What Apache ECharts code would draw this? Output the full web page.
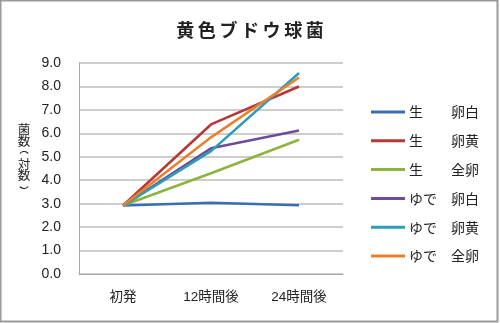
<!DOCTYPE html>
<html>
<head>
<meta charset="utf-8">
<script src="https://cdn.jsdelivr.net/npm/echarts@6/dist/echarts.min.js"></script>
<style>
  html, body { margin: 0; padding: 0; background: #fff; }
  #chart { width: 500px; height: 323px; }
</style>
</head>
<body>
<div id="chart"></div>
<script>
// Staphylococcus aureus counts (log scale) in raw / boiled egg parts
const categories = ['初発', '12時間後', '24時間後'];
const seriesNames = ['生　　卵白', '生　　卵黄', '生　　全卵', 'ゆで　卵白', 'ゆで　卵黄', 'ゆで　全卵'];
const rawWhite = [2.92, 3.04, 2.93];
const rawYolk = [2.92, 6.38, 8.0];
const rawWhole = [2.92, 4.30, 5.73];
const boiledWhite = [2.92, 5.36, 6.12];
const boiledYolk = [2.92, 5.24, 8.57];
const boiledWhole = [2.92, 5.83, 8.38];
const yTicks = ['0.0', '1.0', '2.0', '3.0', '4.0', '5.0', '6.0', '7.0', '8.0', '9.0'];
const yAxisTitle = ['菌', '数', '(', '対', '数', ')'];

const seriesValues = [rawWhite, rawYolk, rawWhole, boiledWhite, boiledYolk, boiledWhole];
const colors = ['#3b6db2', '#b33a37', '#8db43f', '#6f4c97', '#2f9cb8', '#e8802d'];

const font = '"Liberation Sans", "Noto Sans CJK JP", sans-serif';
const cjkFont = '"Noto Sans CJK JP", sans-serif';

// vertical axis title, one glyph per row; brackets drawn as arcs (vertical-writing form)
const titleCenters = [129.5, 141, 153, 164, 175.5, 187];
const axisTitleGlyphs = yAxisTitle.map((ch, i) => {
  const y = titleCenters[i];
  if (ch === '(' || ch === ')') {
    const open = ch === '(';
    const r = 5.5;
    return {
      type: 'arc',
      shape: {
        cx: 24,
        cy: open ? y + r - 1.5 : y - r + 1.5,
        r: r,
        startAngle: open ? Math.PI * 1.22 : Math.PI * 0.22,
        endAngle: open ? Math.PI * 1.78 : Math.PI * 0.78,
        clockwise: true
      },
      style: { stroke: '#222', fill: 'none', lineWidth: 1.1 },
      silent: true
    };
  }
  return {
    type: 'text',
    x: 24,
    y: y,
    style: {
      text: ch,
      fontFamily: cjkFont,
      fontSize: 12.5,
      fill: '#222',
      align: 'center',
      verticalAlign: 'middle'
    },
    silent: true
  };
});

const chart = echarts.init(document.getElementById('chart'), null, { renderer: 'canvas' });

chart.setOption({
  backgroundColor: '#fff',
  animation: false,
  color: colors,
  title: {
    text: '黄\u2009色\u2009ブ\u2009ド\u2009ウ\u2009球\u2009菌',
    left: 'center',
    top: 16,
    textStyle: { fontFamily: cjkFont, fontSize: 18, fontWeight: 'bold', color: '#222' }
  },
  graphic: [
    {
      type: 'rect',
      shape: { x: 0.5, y: 0.5, width: 497, height: 321 },
      style: { fill: 'none', stroke: '#9a9a9a', lineWidth: 2 },
      silent: true
    }
  ].concat(axisTitleGlyphs),
  legend: {
    orient: 'vertical',
    left: 366,
    top: 100,
    itemWidth: 34,
    itemHeight: 3,
    itemGap: 14.8,
    icon: 'rect',
    data: seriesNames,
    textStyle: { fontFamily: cjkFont, fontSize: 14, color: '#222', padding: [0, 0, 0, -1] }
  },
  grid: { left: 79, right: 157, top: 63, bottom: 49, containLabel: false },
  xAxis: {
    type: 'category',
    data: categories,
    boundaryGap: true,
    axisLine: { lineStyle: { color: '#a8a8a8', width: 1 } },
    axisTick: { show: false },
    axisLabel: { fontFamily: font, fontSize: 13.5, color: '#222', margin: 17 }
  },
  yAxis: {
    type: 'value',
    min: 0,
    max: 9,
    interval: 1,
    axisLine: { show: true, lineStyle: { color: '#a8a8a8', width: 1 } },
    axisTick: { show: false },
    splitLine: { lineStyle: { color: '#bdbdbd', width: 1.5 } },
    axisLabel: {
      fontFamily: font,
      fontSize: 14,
      color: '#222',
      margin: 18,
      formatter: (v) => yTicks[Math.round(v)]
    }
  },
  series: seriesNames.map((name, i) => ({
    name: name,
    type: 'line',
    data: seriesValues[i],
    symbol: 'none',
    lineStyle: { width: 2.6, color: colors[i] },
    itemStyle: { color: colors[i] }
  }))
});
</script>
</body>
</html>
